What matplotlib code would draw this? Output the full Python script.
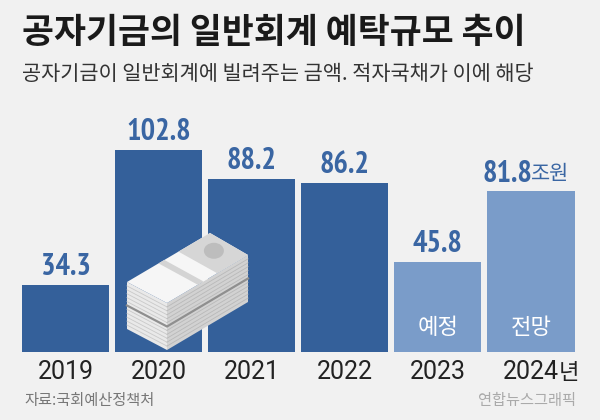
import matplotlib
matplotlib.use("Agg")
import matplotlib.pyplot as plt
from matplotlib.patches import Polygon, Ellipse
from matplotlib import font_manager as fm
import numpy as np

years = ["2019", "2020", "2021", "2022", "2023", "2024"]
year_suffix = "년"
values = [34.3, 102.8, 88.2, 86.2, 45.8, 81.8]
value_labels = ["34.3", "102.8", "88.2", "86.2", "45.8", "81.8"]
bar_notes = {4: "예정", 5: "전망"}
unit_label = "조원"
title = "공자기금의 일반회계 예탁규모 추이"
subtitle = "공자기금이 일반회계에 빌려주는 금액. 적자국채가 이에 해당"
source = "자료:국회예산정책처"
credit = "연합뉴스그래픽"

BG = "#F1F1F1"
DARK = "#34609A"
LIGHT = "#7A9CC9"
VAL = "#3A66A3"
KR = ["Noto Sans CJK KR", "DejaVu Sans"]


def wnum(w):
    if isinstance(w, (int, float)):
        return w
    return fm.weight_dict.get(str(w).lower(), 400)


def find_narrow(target_weight):
    for key in ("narrow", "condensed"):
        cands = []
        for f in fm.fontManager.ttflist:
            n = (f.name + " " + f.fname).lower()
            if key not in n:
                continue
            if "italic" in f.fname.lower() or "oblique" in f.fname.lower():
                continue
            if f.style != "normal":
                continue
            w = wnum(f.weight)
            if "bold" in f.fname.lower().split("/")[-1] and w < 600:
                w = 700
            cands.append((abs(w - target_weight), f.fname))
        if cands:
            cands.sort()
            return cands[0][1]
    return None


def props(size, weight):
    p = find_narrow(weight)
    if p:
        return fm.FontProperties(fname=p, size=size)
    return fm.FontProperties(family="DejaVu Sans", size=size,
                             weight="bold" if weight >= 600 else "normal")

val_fp = props(22, 700)
year_fp = fm.FontProperties(family=["Roboto", "DejaVu Sans"], size=18, weight="normal")

W, H = 600, 420
fig = plt.figure(figsize=(6, 4.2), dpi=100, facecolor=BG)

ax_left, ax_right = 18.95, 577.55
ax_bottom_px = 352
ymax = 110
px_per_unit = 1.965
ax = fig.add_axes([ax_left / W, (H - ax_bottom_px) / H,
                   (ax_right - ax_left) / W, ymax * px_per_unit / H])
ax.set_facecolor(BG)
ax.set_xlim(-0.5, 5.5)
ax.set_ylim(0, ymax)
for s in ax.spines.values():
    s.set_visible(False)

x = np.arange(len(years))
colors = [DARK] * 4 + [LIGHT] * 2
ax.bar(x, values, width=0.935, color=colors, zorder=2)

ax.set_xticks(x)
ax.set_xticklabels(years, fontproperties=year_fp, color="#222222")
ax.tick_params(axis="x", length=0, pad=6)
ax.set_yticks([])
fig.canvas.draw()
lbl = ax.get_xticklabels()[-1]
bb = lbl.get_window_extent()
fig.text(bb.x1 / W, (bb.y0 + bb.y1) / 2 / H, year_suffix, ha="left", va="center",
         family=KR, fontsize=16, color="#222222")

for i, (v, lab) in enumerate(zip(values, value_labels)):
    if i == 5:
        ax.annotate(lab, (i, v), xytext=(1.0, 7), textcoords="offset points",
                    ha="right", va="baseline", fontproperties=val_fp,
                    color=VAL, zorder=5)
        ax.annotate(unit_label, (i, v), xytext=(0.2, 8), textcoords="offset points",
                    ha="left", va="baseline", family=KR, fontsize=15,
                    color=VAL, zorder=5)
    else:
        ax.annotate(lab, (i, v), xytext=(0, 7), textcoords="offset points",
                    ha="center", va="baseline", fontproperties=val_fp,
                    color=VAL, zorder=5)

for i, t in bar_notes.items():
    ax.text(i, (ax_bottom_px - 327) / px_per_unit, t, ha="center", va="center",
            family=KR, fontsize=16, fontweight="medium", color="white", zorder=5)

fig.text(22 / W, 1 - 33 / H, title, ha="left", va="center", family=KR,
         fontsize=25, fontweight="bold", color="#1a1a1a")
fig.text(22 / W, 1 - 74 / H, subtitle, ha="left", va="center", family=KR,
         fontsize=15, color="#333333")
fig.text(24 / W, 1 - 401 / H, source, ha="left", va="center", family=KR,
         fontsize=11, color="#777777")
fig.text(576 / W, 1 - 401 / H, credit, ha="right", va="center", family=KR,
         fontsize=11, color="#AAAAAA")

# Money stack illustration (decorative)
def P(px, py):
    return (px / W, 1 - py / H)

def poly(pts, color, z=6):
    fig.patches.append(Polygon([P(*p) for p in pts], closed=True, fc=color,
                               ec="none", transform=fig.transFigure, zorder=z))

L = np.array([127, 282]); T = np.array([210, 233])
R = np.array([248, 255]); F = np.array([167, 303])
th = 47
down = np.array([0, th])
poly([L, F, F + down, L + down], "#E9E9E9")
poly([F, R, R + down, F + down], "#D2D2D2")
for k in range(1, 12):
    d = np.array([0, th * k / 12])
    fig.lines.append(plt.Line2D(*zip(P(*(L + d)), P(*(F + d))), transform=fig.transFigure,
                                color="#C9C9C9", lw=0.6, zorder=7))
    fig.lines.append(plt.Line2D(*zip(P(*(F + d)), P(*(R + d))), transform=fig.transFigure,
                                color="#B9B9B9", lw=0.6, zorder=7))
mid = np.array([0, th / 2])
fig.lines.append(plt.Line2D(*zip(P(*(L + mid)), P(*(F + mid)), P(*(R + mid))),
                            transform=fig.transFigure, color="#8F8F8F", lw=1.6, zorder=7))
poly([L, T, R, F], "#F6F6F6", z=8)

def face(u0, u1, color):
    a = L + (T - L) * u0; b = L + (T - L) * u1
    c = F + (R - F) * u1; d = F + (R - F) * u0
    poly([a, b, c, d], color, z=9)

face(0.38, 0.45, "#D4D4D4")
face(0.62, 1.0, "#D6D6D6")
cen = L + (T - L) * 0.83 + (F - L) * 0.45
fig.patches.append(Ellipse(P(*cen), 20 / W, 16 / H, angle=0, fc="#BDBDBD",
                           transform=fig.transFigure, zorder=10))

fig.savefig("out.png", dpi=100, facecolor=BG)
